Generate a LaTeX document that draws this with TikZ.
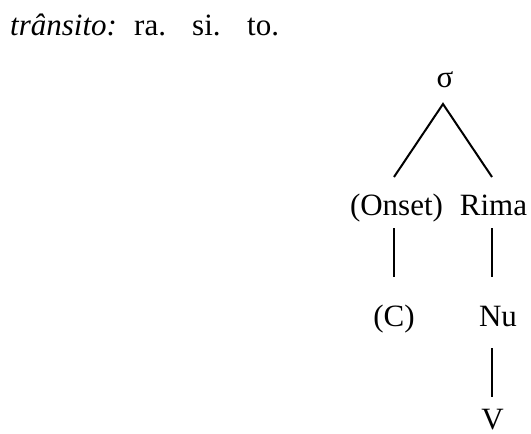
\documentclass[tikz,border=0pt]{standalone}
\usepackage{fontspec}
\setmainfont{Liberation Serif}
\begin{document}
\begin{tikzpicture}[x=1pt,y=-1pt,
  lbl/.style={inner sep=0pt,anchor=base,font=\fontsize{31}{36}\selectfont},
  ttl/.style={inner sep=0pt,anchor=base west,font=\fontsize{31}{36}\selectfont},
  edge/.style={line width=2pt}]
\useasboundingbox (0,0) rectangle (531,434);
\node[ttl] (t1) at (10,35) {\textit{trânsito:}};
\node[ttl] (t2) at (134,35) {ra.};
\node[ttl] (t3) at (192,35) {si.};
\node[ttl] (t4) at (247,35) {to.};
\node[lbl] (sig) at (445,87) {σ};
\node[lbl] (ons) at (396.5,215) {(Onset)};
\node[lbl] (rim) at (493.5,215) {Rima};
\node[lbl] (c) at (394,326) {(C)};
\node[lbl] (nu) at (498,326) {Nu};
\node[lbl] (v) at (492.5,429) {V};
\coordinate (apex) at (443,104);
\coordinate (lo) at (394,177);
\coordinate (ro) at (492,177);
\coordinate (ol1) at (394,228);
\coordinate (ol2) at (394,277);
\coordinate (rl1) at (492,228);
\coordinate (rl2) at (492,277);
\coordinate (nl1) at (492,348);
\coordinate (nl2) at (492,397);
\draw[edge] (lo) -- (apex) -- (ro);
\draw[edge] (ol1) -- (ol2);
\draw[edge] (rl1) -- (rl2);
\draw[edge] (nl1) -- (nl2);
\end{tikzpicture}
\end{document}
